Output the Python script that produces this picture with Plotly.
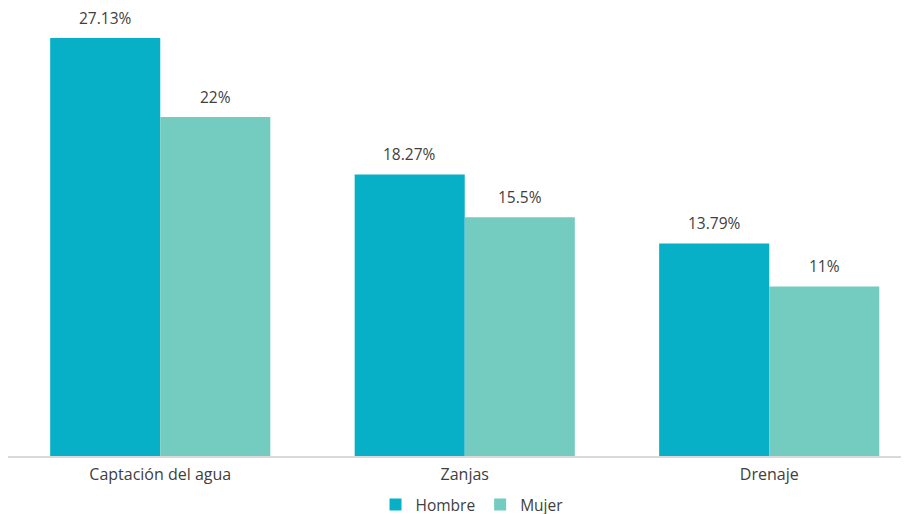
import plotly.graph_objects as go

categories = ["Captación del agua", "Zanjas", "Drenaje"]
hombre = [27.13, 18.27, 13.79]
mujer = [22, 15.5, 11]
hombre_labels = ["27.13%", "18.27%", "13.79%"]
mujer_labels = ["22%", "15.5%", "11%"]

C_H = "#07B0C6"
C_M = "#74CBC0"
TXT = "#404040"
FONT = "'Open Sans', Lato, sans-serif"

fig = go.Figure()
fig.add_trace(go.Bar(x=categories, y=hombre, name="Hombre", marker_color=C_H,
                     marker_line_width=0))
fig.add_trace(go.Bar(x=categories, y=mujer, name="Mujer", marker_color=C_M,
                     marker_line_width=0))

# data labels placed above the bars via the axes
for vals, labs, shift in [(hombre, hombre_labels, -55), (mujer, mujer_labels, 55)]:
    for c, v, t in zip(categories, vals, labs):
        fig.add_annotation(x=c, y=v, xref="x", yref="y", text=t, showarrow=False,
                           xanchor="center", yanchor="bottom", xshift=shift, yshift=7,
                           font=dict(family=FONT, size=15.5, color=TXT))

fig.update_layout(
    width=909, height=514,
    margin=dict(l=0, r=8, t=2, b=66),
    paper_bgcolor="white", plot_bgcolor="white",
    barmode="group", bargap=0.277, bargroupgap=0,
    font=dict(family=FONT, size=15.5, color=TXT),
    xaxis=dict(range=[-0.5, 2.459], showline=True, linecolor="#D9D9D9", linewidth=1.5,
               ticks="", showgrid=False, ticklabelstandoff=3,
               tickfont=dict(family=FONT, size=16, color=TXT)),
    yaxis=dict(range=[0, 28.94], visible=False, showgrid=False),
    legend=dict(orientation="h", x=0.515, xanchor="center", y=-0.11, yanchor="middle",
                font=dict(family=FONT, size=15.5, color=TXT), itemwidth=30,
                tracegroupgap=0),
    showlegend=True,
)

fig.write_html("out.html")
